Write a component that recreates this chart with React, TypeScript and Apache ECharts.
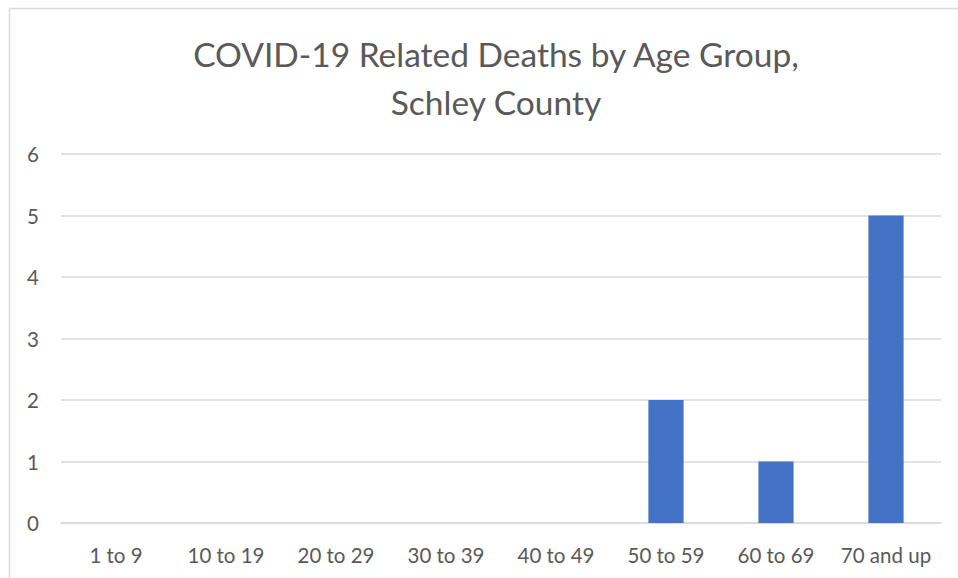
import React, { useEffect, useRef } from "react";
import * as echarts from "echarts";

const categories = ["1 to 9", "10 to 19", "20 to 29", "30 to 39", "40 to 49", "50 to 59", "60 to 69", "70 and up"];
const deaths = [0, 0, 0, 0, 0, 2, 1, 5];
const titleLines = ["COVID-19 Related Deaths by Age Group,", "Schley County"];

export default function App() {
  const ref = useRef<HTMLDivElement>(null);
  useEffect(() => {
    const chart = echarts.init(ref.current!, null, { renderer: "svg" });
    const font = "Lato, 'Open Sans', sans-serif";
    chart.setOption({
      animation: false,
      backgroundColor: "#ffffff",
      title: {
        text: titleLines.join("\n"),
        left: 491,
        top: 25,
        textAlign: "center",
        textStyle: { fontFamily: font, fontSize: 33.5, fontWeight: "normal", color: "#595959", lineHeight: 48 },
      },
      graphic: [
        {
          type: "rect",
          shape: { x: 9.5, y: 8.5, width: 1000, height: 1000 },
          style: { fill: "none", stroke: "#d9d9d9", lineWidth: 1.5 },
          silent: true,
        },
      ],
      grid: { left: 61, right: 17, top: 154, bottom: 55 },
      xAxis: {
        type: "category",
        data: categories,
        axisLine: { lineStyle: { color: "#d9d9d9", width: 1.5 } },
        axisTick: { show: false },
        axisLabel: { color: "#595959", fontFamily: font, fontSize: 20.5, margin: 21, interval: 0 },
      },
      yAxis: {
        type: "value",
        min: 0,
        max: 6,
        interval: 1,
        axisLine: { show: false },
        axisTick: { show: false },
        splitLine: { lineStyle: { color: "#d9d9d9", width: 1.5 } },
        axisLabel: { color: "#595959", fontFamily: font, fontSize: 20.5, margin: 22 },
      },
      series: [
        {
          type: "bar",
          data: deaths,
          barWidth: "32%",
          itemStyle: { color: "#4472c4" },
        },
      ],
    });
    return () => chart.dispose();
  }, []);
  return <div ref={ref} style={{ position: "absolute", left: 0, top: 0, width: 958, height: 578 }} />;
}
